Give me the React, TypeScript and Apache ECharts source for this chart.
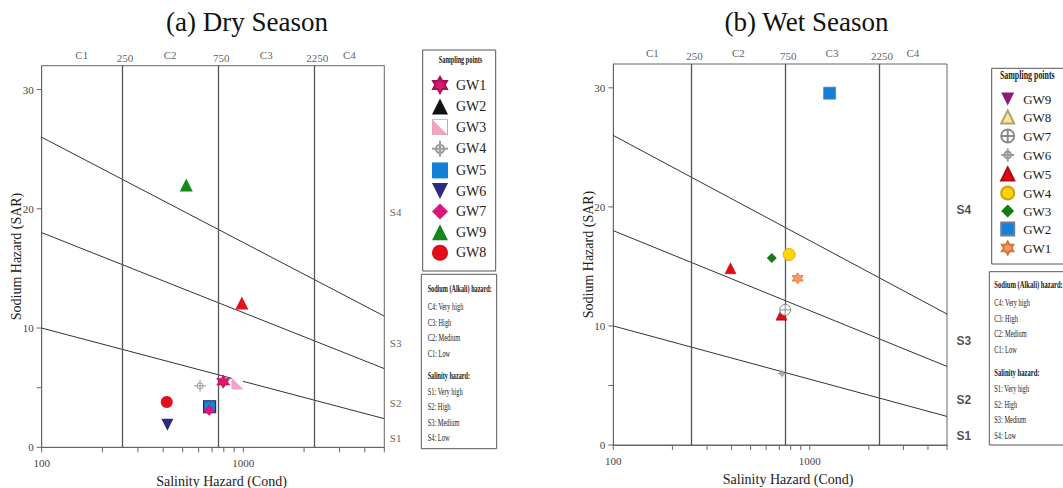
import React, { useEffect, useRef } from "react";
import * as echarts from "echarts";

// Axis extents
const COND_MIN = 100;
const COND_MAX = 5000;
const SAR_MIN = 0;
const SAR_MAX = 32;

// Salinity class breaks (EC) and the class names written above the plot
const salinityBreaks = [250, 750, 2250];
const salinityClasses = ["C1", "C2", "C3", "C4"];
const salinityClassAt = [158, 433, 1299, 3354];

// Sodium class names written right of the plot, at these SAR heights
const sodiumClasses = ["S4", "S3", "S2", "S1"];
const sodiumClassAt = [19.7, 8.75, 3.75, 0.75];

// Sodium class boundary lines, end points [EC, SAR]
const boundaryS1S2 = [[100, 10], [5000, 2.4]];
const boundaryS2S3 = [[100, 18], [5000, 6.6]];
const boundaryS3S4 = [[100, 26], [5000, 11]];

// Tick positions
const condTicks = [100, 200, 300, 400, 500, 600, 700, 800, 900, 1000, 2000, 3000, 4000, 5000];
const condLabels = [100, 1000];
const sarTicks = [0, 5, 10, 20, 30];

// Dry season samples
const dryWells = ["GW1", "GW2", "GW3", "GW4", "GW5", "GW6", "GW7", "GW9", "GW8"];
const dryEC = [795, 983, 935, 610, 680, 420, 677, 521, 417];
const drySAR = [5.5, 12.1, 5.35, 5.15, 3.4, 1.9, 3.1, 22.0, 3.8];

// Wet season samples (GW9 has no plotted value)
const wetWells = ["GW9", "GW8", "GW7", "GW6", "GW5", "GW4", "GW3", "GW2", "GW1"];
const wetEC: (number | null)[] = [null, 718, 750, 723, 395, 786, 641, 1263, 868];
const wetSAR: (number | null)[] = [null, 10.95, 11.35, 6.0, 14.85, 16.0, 15.7, 29.55, 14.0];

// Hazard key texts
const alkaliHeader = "Sodium (Alkali) hazard:";
const alkaliHazard = ["C4: Very high", "C3: High", "C2: Medium", "C1: Low"];
const salinityHeader = "Salinity hazard:";
const salinityHazard = ["S1: Very high", "S2: High", "S3: Medium", "S4: Low"];

// Marker shapes
const STAR6 =
  "path://M50,0L64.43,25L93.3,25L78.87,50L93.3,75L64.43,75L50,100L35.57,75L6.7,75L21.13,50L6.7,25L35.57,25Z";
const DOWN_TRI = "path://M0,0L100,0L50,100Z";
const CROSS_SMALL =
  "path://M0,50L100,50M50,0L50,100M24,50A26,26 0 1,1 76,50A26,26 0 1,1 24,50Z";
const CROSS_CIRCLE =
  "path://M0,50A50,50 0 1,1 100,50A50,50 0 1,1 0,50ZM0,50L100,50M50,0L50,100";
const splitSquareSvg =
  '<svg xmlns="http://www.w3.org/2000/svg" width="40" height="40" viewBox="0 0 40 40">' +
  '<rect x="1" y="1" width="38" height="38" fill="#ffffff" stroke="#9b9b9b" stroke-width="2"/>' +
  '<polygon points="1,1 1,39 39,39" fill="#f4a3c3"/></svg>';
const SPLIT_SQUARE = "image://data:image/svg+xml;charset=utf-8," + encodeURIComponent(splitSquareSvg);

type Mark = {
  symbol: string;
  size: number;
  color: string;
  border?: string;
  bw?: number;
  pointColor?: string;
  pointBorder?: string;
  pointBw?: number;
};

const dryMarks: Record<string, Mark> = {
  GW1: { symbol: STAR6, size: 13, color: "#d9176f", border: "#a80f52", bw: 0.6 },
  GW2: { symbol: "triangle", size: 13, color: "#111111", pointColor: "#e2131c" },
  GW3: { symbol: SPLIT_SQUARE, size: 12, color: "#f4a3c3" },
  GW4: { symbol: CROSS_SMALL, size: 12, color: "rgba(0,0,0,0)", border: "#9a9a9a", bw: 1 },
  GW5: { symbol: "rect", size: 12, color: "#1580d8", pointBorder: "#1d2b55", pointBw: 1.2 },
  GW6: { symbol: DOWN_TRI, size: 12, color: "#2c2a80" },
  GW7: { symbol: "diamond", size: 11, color: "#d8167b" },
  GW9: { symbol: "triangle", size: 13, color: "#14881d" },
  GW8: { symbol: "circle", size: 12, color: "#e0101a" },
};

const wetMarks: Record<string, Mark> = {
  GW9: { symbol: DOWN_TRI, size: 11, color: "#8c1a7d" },
  GW8: {
    symbol: "triangle", size: 11, color: "#fbe6a0", border: "#b9a267", bw: 0.8,
    pointColor: "#e00a15", pointBorder: "#9c0810", pointBw: 0.6,
  },
  GW7: { symbol: CROSS_CIRCLE, size: 11, color: "#ffffff", border: "#8a8a8a", bw: 1 },
  GW6: { symbol: CROSS_SMALL, size: 8, color: "rgba(0,0,0,0)", border: "#9a9a9a", bw: 1 },
  GW5: { symbol: "triangle", size: 11, color: "#e00a15", border: "#b00710", bw: 0.5 },
  GW4: { symbol: "circle", size: 12, color: "#ffd400", border: "#d19f10", bw: 0.8 },
  GW3: { symbol: "diamond", size: 10, color: "#137a14" },
  GW2: { symbol: "rect", size: 12, color: "#1580d8", border: "#6e7e98", bw: 0.8 },
  GW1: { symbol: STAR6, size: 11, color: "#f7985e", border: "#d47538", bw: 0.8 },
};

const SERIF = "Liberation Serif";
const LINE_COLOR = "#333";
const FRAME_COLOR = "#666";

function wellSeries(
  prefix: string,
  wells: string[],
  ec: (number | null)[],
  sar: (number | null)[],
  marks: Record<string, Mark>,
  idx: number
) {
  return wells.map((w, i) => {
    const m = marks[w];
    const item: any = ec[i] == null ? null : { value: [ec[i], sar[i]] };
    if (item && (m.pointColor || m.pointBorder)) {
      item.itemStyle = {
        color: m.pointColor ?? m.color,
        borderColor: m.pointBorder ?? m.border ?? m.pointColor ?? m.color,
        borderWidth: m.pointBw ?? m.bw ?? 0,
      };
    }
    return {
      type: "scatter",
      name: prefix + w,
      xAxisIndex: idx,
      yAxisIndex: idx,
      symbol: m.symbol,
      symbolSize: m.size,
      data: item ? [item] : [],
      itemStyle: {
        color: m.color,
        borderColor: m.border ?? m.color,
        borderWidth: m.bw ?? 0,
        opacity: 1,
      },
      emphasis: { disabled: true },
      z: 5,
    };
  });
}

function boundarySeries(idx: number) {
  const lines = [boundaryS1S2, boundaryS2S3, boundaryS3S4];
  return lines.map((d, k) => ({
    type: "line",
    xAxisIndex: idx,
    yAxisIndex: idx,
    data: d,
    showSymbol: false,
    symbol: "none",
    silent: true,
    lineStyle: { color: LINE_COLOR, width: 1 },
    z: 3,
    markLine:
      k === 0
        ? {
            silent: true,
            symbol: ["none", "none"],
            label: { show: false },
            lineStyle: { color: "#555", width: 1.3, type: "solid" },
            data: salinityBreaks.map((v) => ({ xAxis: v })),
          }
        : undefined,
  }));
}

function tickSeries(idx: number) {
  const data = [
    ...condTicks.map((v) => [v, SAR_MIN, 0]),
    ...sarTicks.map((v) => [COND_MIN, v, 1]),
  ];
  return {
    type: "custom",
    xAxisIndex: idx,
    yAxisIndex: idx,
    silent: true,
    clip: false,
    z: 4,
    encode: { x: 0, y: 1 },
    data,
    renderItem: (_params: any, api: any) => {
      const p = api.coord([api.value(0), api.value(1)]);
      const onY = api.value(2) === 1;
      return {
        type: "line",
        shape: onY
          ? { x1: p[0] - 5, y1: p[1], x2: p[0], y2: p[1] }
          : { x1: p[0], y1: p[1], x2: p[0], y2: p[1] + 5 },
        style: { stroke: FRAME_COLOR, lineWidth: 1 },
      };
    },
  };
}

function labelSeries(idx: number, sodiumLabel: any) {
  const base = {
    type: "scatter",
    xAxisIndex: idx,
    yAxisIndex: idx,
    symbolSize: 1,
    itemStyle: { color: "rgba(0,0,0,0)" },
    silent: true,
    clip: false,
    emphasis: { disabled: true },
    z: 4,
  };
  return [
    {
      ...base,
      data: salinityClasses.map((c, i) => ({ name: c, value: [salinityClassAt[i], SAR_MAX] })),
      label: {
        show: true, position: "top", distance: 5, formatter: "{b}",
        fontFamily: SERIF, fontSize: 11, color: "#333",
      },
    },
    {
      ...base,
      data: salinityBreaks.map((v) => ({ name: String(v), value: [v, SAR_MAX] })),
      label: {
        show: true, position: "top", distance: 2, offset: [3, 0], formatter: "{b}",
        fontFamily: SERIF, fontSize: 11, color: "#333",
      },
    },
    {
      ...base,
      data: sodiumClasses.map((c, i) => ({ name: c, value: [COND_MAX, sodiumClassAt[i]] })),
      label: { show: true, position: "right", formatter: "{b}", ...sodiumLabel },
    },
  ];
}

function makeXAxis(idx: number, nameShift: number) {
  return {
    gridIndex: idx,
    type: "log",
    logBase: 10,
    min: COND_MIN,
    max: COND_MAX,
    axisLine: { show: true, onZero: false, lineStyle: { color: FRAME_COLOR } },
    axisTick: { show: false },
    splitLine: { show: false },
    axisLabel: {
      margin: 10,
      fontFamily: SERIF,
      fontSize: 11,
      color: "#444",
      formatter: (v: number) => {
        const hit = condLabels.find((c) => Math.abs(c - v) < 1e-6 * c);
        return hit ? String(hit) : "";
      },
    },
    name: "Salinity Hazard (Cond)",
    nameLocation: "middle",
    nameGap: 27,
    nameTextStyle: {
      fontFamily: SERIF, fontSize: 14, color: "#222",
      padding: [0, 0, 0, nameShift],
    },
  };
}

function makeYAxis(idx: number, gap: number) {
  return {
    gridIndex: idx,
    type: "value",
    min: SAR_MIN,
    max: SAR_MAX,
    interval: 10,
    axisLine: { show: true, onZero: false, lineStyle: { color: FRAME_COLOR } },
    axisTick: { show: false },
    splitLine: { show: false },
    axisLabel: {
      margin: 8,
      fontFamily: SERIF,
      fontSize: 11,
      color: "#444",
      formatter: (v: number) => (v % 10 === 0 ? String(v) : ""),
    },
    name: "Sodium Hazard (SAR)",
    nameLocation: "middle",
    nameGap: gap,
    nameMoveOverlap: false,
    nameTextStyle: { fontFamily: SERIF, fontSize: 14, color: "#222" },
  };
}

function keyTexts(x: number, top: number, header2Y: number, step: number, headScale: number, bodyScale: number) {
  const els: any[] = [];
  const head = (text: string, y: number) => ({
    type: "text", x, y, scaleX: headScale, silent: true,
    style: { text, font: `bold 11px "${SERIF}"`, fill: "#222", align: "left", verticalAlign: "middle" },
  });
  const body = (text: string, y: number) => ({
    type: "text", x, y, scaleX: bodyScale, silent: true,
    style: { text, font: `11px "${SERIF}"`, fill: "#222", align: "left", verticalAlign: "middle" },
  });
  els.push(head(alkaliHeader, top));
  alkaliHazard.forEach((t, i) => els.push(body(t, top + 18.5 + i * step)));
  els.push(head(salinityHeader, header2Y));
  salinityHazard.forEach((t, i) => els.push(body(t, header2Y + 16 + i * step)));
  return els;
}

const box = (x: number, y: number, w: number, h: number) => ({
  type: "rect",
  silent: true,
  shape: { x, y, width: w, height: h },
  style: { fill: "none", stroke: "#555", lineWidth: 1 },
});

const gridBase = {
  show: true,
  borderColor: FRAME_COLOR,
  borderWidth: 1,
  containLabel: false,
  outerBoundsMode: "none",
};

const option: any = {
  animation: false,
  backgroundColor: "#ffffff",
  grid: [
    { ...gridBase, left: 41.7, top: 65.7, width: 342.6, height: 381.6 },
    { ...gridBase, left: 613.3, top: 64, width: 333.7, height: 381 },
  ],
  xAxis: [makeXAxis(0, 17), makeXAxis(1, 16)],
  yAxis: [makeYAxis(0, 18.5), makeYAxis(1, 18)],
  legend: [
    {
      data: dryWells.map((w) => "d-" + w),
      formatter: (n: string) => n.slice(2),
      orient: "vertical",
      left: 431,
      top: 76,
      padding: 0,
      itemWidth: 16,
      itemHeight: 16,
      itemGap: 4.6,
      selectedMode: false,
      textStyle: { fontFamily: SERIF, fontSize: 14, lineHeight: 16, color: "#222", padding: [0, 0, 0, 3] },
    },
    {
      data: wetWells.map((w) => "w-" + w),
      formatter: (n: string) => n.slice(2),
      orient: "vertical",
      left: 1000.2,
      top: 92.5,
      padding: 0,
      itemWidth: 13,
      itemHeight: 13,
      itemGap: 4.0,
      selectedMode: false,
      textStyle: { fontFamily: SERIF, fontSize: 13, lineHeight: 13, color: "#222", padding: [0, 0, 0, 4] },
    },
  ],
  graphic: {
    elements: [
      {
        type: "text", x: 247, y: 22, silent: true,
        style: { text: "(a) Dry Season", font: `27px "${SERIF}"`, fill: "#111", align: "center", verticalAlign: "middle" },
      },
      {
        type: "text", x: 806.5, y: 22, silent: true,
        style: { text: "(b) Wet Season", font: `27px "${SERIF}"`, fill: "#111", align: "center", verticalAlign: "middle" },
      },
      box(422.7, 50, 73, 221),
      box(421.3, 274.3, 75.4, 174.4),
      box(991.7, 68.3, 80, 195.7),
      box(989.3, 271.7, 80, 173.3),
      {
        type: "text", x: 460.5, y: 59.3, scaleX: 0.57, silent: true,
        style: { text: "Sampling points", font: `bold 11px "${SERIF}"`, fill: "#222", align: "center", verticalAlign: "middle" },
      },
      {
        type: "text", x: 1027.3, y: 75, scaleX: 0.66, silent: true,
        style: { text: "Sampling points", font: `bold 12px "${SERIF}"`, fill: "#222", align: "center", verticalAlign: "middle" },
      },
      ...keyTexts(427.7, 288.3, 375.3, 15.5, 0.56, 0.58),
      ...keyTexts(994.3, 284, 372.7, 15.5, 0.6, 0.58),
    ],
  },
  series: [
    ...boundarySeries(0),
    ...boundarySeries(1),
    tickSeries(0),
    tickSeries(1),
    ...labelSeries(0, { distance: 5, fontFamily: SERIF, fontSize: 11, color: "#333" }),
    ...labelSeries(1, { distance: 9, fontFamily: "Liberation Sans", fontWeight: "bold", fontSize: 12, color: "#222" }),
    ...wellSeries("d-", dryWells, dryEC, drySAR, dryMarks, 0),
    ...wellSeries("w-", wetWells, wetEC, wetSAR, wetMarks, 1),
  ],
};

export default function App() {
  const ref = useRef<HTMLDivElement>(null);
  useEffect(() => {
    const chart = echarts.init(ref.current!, undefined, { renderer: "svg" });
    chart.setOption(option);
    return () => chart.dispose();
  }, []);
  return (
    <div
      ref={ref}
      style={{ position: "fixed", left: 0, top: 0, width: 1063, height: 488, background: "#fff" }}
    />
  );
}
